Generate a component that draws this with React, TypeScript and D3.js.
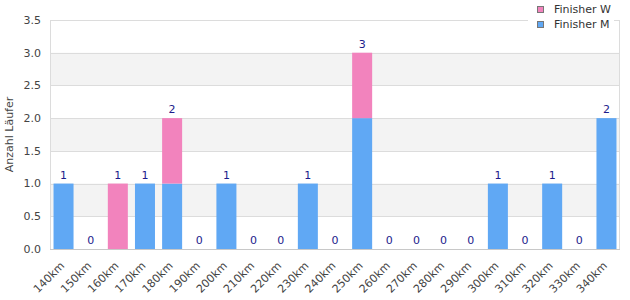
import React from "react";
import * as d3 from "d3";

const categories = ["140km","150km","160km","170km","180km","190km","200km","210km","220km","230km","240km","250km","260km","270km","280km","290km","300km","310km","320km","330km","340km"];
const finisherM = [1,0,0,1,1,0,1,0,0,1,0,2,0,0,0,0,1,0,1,0,2];
const finisherW = [0,0,1,0,1,0,0,0,0,0,0,1,0,0,0,0,0,0,0,0,0];
const yTicks = [0,0.5,1,1.5,2,2.5,3,3.5];

const W = 630, H = 300;
const left = 50, right = 620, top = 20, bottom = 249;
const blue = "#60a8f4", pink = "#f283bd";
const font = "DejaVu Sans, sans-serif";

export default function App() {
  const x = d3.scaleBand().domain(categories).range([left, right]).paddingInner(0.263).paddingOuter(0.13);
  const y = d3.scaleLinear().domain([0, 3.5]).range([bottom, top]);
  const bw = x.bandwidth();
  return (
    <svg width={W} height={H} style={{ position: "absolute", left: 0, top: 0, fontFamily: font }}>
      <rect x={0} y={0} width={W} height={H} fill="#fff" />
      {yTicks.slice(0, -1).map((t, i) =>
        i % 2 === 1 ? <rect key={"b" + i} x={left} y={y(t + 0.5)} width={right - left} height={y(t) - y(t + 0.5)} fill="#f3f3f3" /> : null
      )}
      {yTicks.map((t) => (
        <line key={"g" + t} x1={left} x2={right} y1={Math.round(y(t)) + 0.5} y2={Math.round(y(t)) + 0.5} stroke="#dcdcdc" />
      ))}
      <line x1={left + 0.5} x2={left + 0.5} y1={top} y2={bottom} stroke="#dcdcdc" />
      <line x1={right - 0.5} x2={right - 0.5} y1={top} y2={bottom} stroke="#dcdcdc" />
      <line x1={left} x2={right} y1={bottom + 0.5} y2={bottom + 0.5} stroke="#c8c8c8" />
      {yTicks.map((t) => (
        <text key={"yl" + t} x={41} y={y(t)} dy="0.35em" textAnchor="end" fontSize={11} fill="#444">{t.toFixed(1)}</text>
      ))}
      <text transform={`translate(9,${(top + bottom) / 2}) rotate(-90)`} textAnchor="middle" dy="0.35em" fontSize={11} fill="#444">Anzahl Läufer</text>
      {categories.map((c, i) => {
        const x0 = x(c)!;
        const m = finisherM[i], w = finisherW[i];
        return (
          <g key={c}>
            {m > 0 && <rect x={x0} y={y(m)} width={bw} height={y(0) - y(m)} fill={blue} />}
            {w > 0 && <rect x={x0} y={y(m + w)} width={bw} height={y(m) - y(m + w)} fill={pink} />}
            <text x={x0 + bw / 2} y={y(m + w) - 5} textAnchor="middle" fontSize={11} fill="#1c1c8c">{m + w}</text>
            <text transform={`translate(${x0 + bw / 2 - 4},${bottom + 12}) rotate(-45)`} textAnchor="end" dy="0.7em" fontSize={11} fill="#444">{c}</text>
          </g>
        );
      })}
      <rect x={528} y={0} width={86} height={30} fill="#fff" />
      <rect x={537.5} y={6.5} width={6} height={6} fill={pink} stroke="#777" />
      <text x={554} y={13} fontSize={11} fill="#333">Finisher W</text>
      <rect x={537.5} y={21.5} width={6} height={6} fill={blue} stroke="#777" />
      <text x={554} y={28} fontSize={11} fill="#333">Finisher M</text>
    </svg>
  );
}
